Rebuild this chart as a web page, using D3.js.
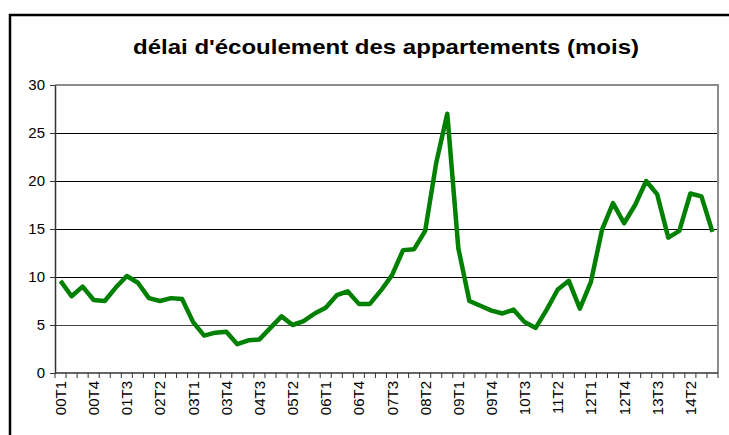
<!DOCTYPE html>
<html>
<head>
<meta charset="utf-8">
<script src="https://cdn.jsdelivr.net/npm/d3@7"></script>
<style>
  body { margin: 0; background: #fff; }
  svg { display: block; font-family: "Liberation Sans", Arial, sans-serif; }
</style>
</head>
<body>
<div id="chart"></div>
<script>
// quarters 00T1 .. 14T4
const years = d3.range(0, 15);
const quarters = [];
years.forEach((y) => {
  for (let q = 1; q <= 4; q++) quarters.push(String(y).padStart(2, "0") + "T" + q);
});

// délai d'écoulement (mois)
const delai = [
  9.6, 8.0, 9.0, 7.6, 7.5, 8.9, 10.1, 9.4, 7.8, 7.5,
  7.8, 7.7, 5.3, 3.9, 4.2, 4.3, 3.0, 3.4, 3.5, 4.7,
  5.9, 5.0, 5.4, 6.2, 6.8, 8.1, 8.5, 7.2, 7.2, 8.6,
  10.2, 12.8, 12.9, 14.8, 21.9, 27.0, 13.0, 7.5, 7.0, 6.5,
  6.2, 6.6, 5.3, 4.7, 6.6, 8.7, 9.6, 6.7, 9.5, 14.9,
  17.7, 15.6, 17.5, 20.0, 18.6, 14.1, 14.8, 18.7, 18.4, 14.7
];
const yTicks = [0, 5, 10, 15, 20, 25, 30];
const title = "délai d'écoulement des appartements (mois)";

const width = 729, height = 435;
const margin = { top: 85, right: 11, bottom: 62, left: 55 };

const svg = d3.select("#chart").append("svg")
  .attr("width", width)
  .attr("height", height);

// outer chart frame (only top and left edges visible)
svg.append("path")
  .attr("d", `M10,${height + 5} V15 H${width + 5}`)
  .attr("fill", "none")
  .attr("stroke", "#000")
  .attr("stroke-width", 2.5);

svg.append("text")
  .attr("x", 386)
  .attr("y", 54)
  .attr("text-anchor", "middle")
  .attr("font-size", 21)
  .attr("font-weight", "bold")
  .attr("textLength", 506)
  .attr("lengthAdjust", "spacingAndGlyphs")
  .text(title);

const x = d3.scaleBand()
  .domain(quarters)
  .range([margin.left, width - margin.right]);

const y = d3.scaleLinear()
  .domain([0, 30])
  .range([height - margin.bottom, margin.top]);

const g = svg.append("g");

// horizontal gridlines
g.selectAll("line.grid")
  .data(yTicks.filter((d) => d > 0 && d < 30))
  .enter()
  .append("line")
  .attr("class", "grid")
  .attr("x1", margin.left)
  .attr("x2", width - margin.right)
  .attr("y1", (d) => Math.round(y(d)) + 0.5)
  .attr("y2", (d) => Math.round(y(d)) + 0.5)
  .attr("stroke", (d) => (d === 5 ? "#444" : "#000"))
  .attr("stroke-width", 1);

// plot border top/right
g.append("path")
  .attr("d", `M${margin.left},${y(30)} H${width - margin.right} V${y(0)}`)
  .attr("fill", "none")
  .attr("stroke", "#8c8c8c")
  .attr("stroke-width", 2);

// y axis
const yAxis = g.append("g")
  .attr("transform", `translate(${margin.left},0)`)
  .call(d3.axisLeft(y).tickValues(yTicks).tickSize(5).tickPadding(5).tickSizeOuter(0));
yAxis.select(".domain").attr("stroke", "#333").attr("stroke-width", 1.5);
yAxis.selectAll(".tick line").attr("stroke", "#333");
yAxis.selectAll("text").attr("font-size", 15).attr("fill", "#000")
  .attr("font-family", "Liberation Sans, Arial, sans-serif");

// x axis: tick marks between categories
const xAxis = g.append("g")
  .attr("transform", `translate(0,${y(0)})`);
xAxis.append("line")
  .attr("x1", margin.left)
  .attr("x2", width - margin.right)
  .attr("stroke", "#333")
  .attr("stroke-width", 1.5);
xAxis.selectAll("line.tk")
  .data(quarters)
  .enter()
  .append("line")
  .attr("class", "tk")
  .attr("x1", (d) => x(d) + x.bandwidth())
  .attr("x2", (d) => x(d) + x.bandwidth())
  .attr("y1", 0)
  .attr("y2", 5)
  .attr("stroke", "#333");
xAxis.append("line")
  .attr("x1", margin.left).attr("x2", margin.left)
  .attr("y1", 0).attr("y2", 5)
  .attr("stroke", "#333");

xAxis.selectAll("text")
  .data(quarters.filter((d, i) => i % 3 === 0))
  .enter()
  .append("text")
  .attr("transform", (d) => `translate(${x(d) + x.bandwidth() / 2 + 5.5},8) rotate(-90)`)
  .attr("text-anchor", "end")
  .attr("font-size", 15)
  .text((d) => d);

// series line
const line = d3.line()
  .x((d, i) => x(quarters[i]) + x.bandwidth() / 2)
  .y((d) => y(d));

g.append("path")
  .datum(delai)
  .attr("d", line)
  .attr("fill", "none")
  .attr("stroke", "#008000")
  .attr("stroke-width", 4.5)
  .attr("stroke-linejoin", "round");
</script>
</body>
</html>
